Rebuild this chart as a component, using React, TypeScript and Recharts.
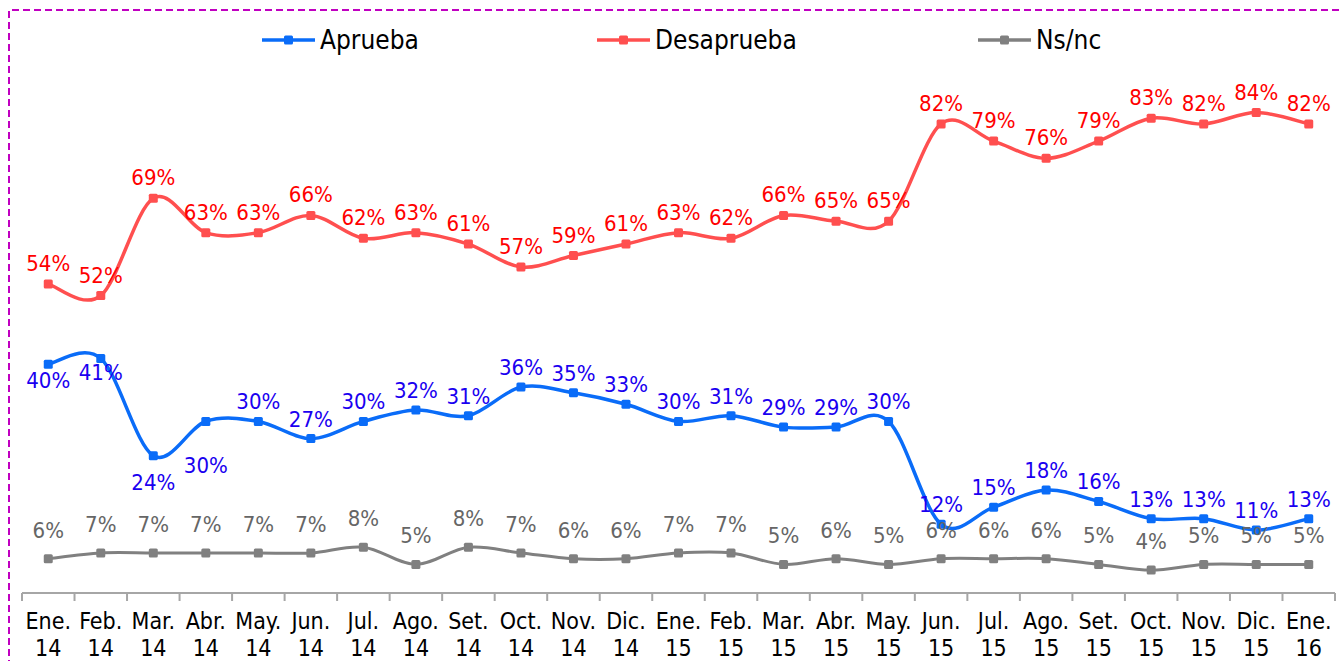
import { LineChart, Line, XAxis, YAxis } from 'recharts';

const months = [
  'Ene.|14', 'Feb.|14', 'Mar.|14', 'Abr.|14', 'May.|14', 'Jun.|14', 'Jul.|14', 'Ago.|14', 'Set.|14',
  'Oct.|14', 'Nov.|14', 'Dic.|14', 'Ene.|15', 'Feb.|15', 'Mar.|15', 'Abr.|15', 'May.|15', 'Jun.|15',
  'Jul.|15', 'Ago.|15', 'Set.|15', 'Oct.|15', 'Nov.|15', 'Dic.|15', 'Ene.|16',
];
const aprueba = [40, 41, 24, 30, 30, 27, 30, 32, 31, 36, 35, 33, 30, 31, 29, 29, 30, 12, 15, 18, 16, 13, 13, 11, 13];
const desaprueba = [54, 52, 69, 63, 63, 66, 62, 63, 61, 57, 59, 61, 63, 62, 66, 65, 65, 82, 79, 76, 79, 83, 82, 84, 82];
const nsnc = [6, 7, 7, 7, 7, 7, 8, 5, 8, 7, 6, 6, 7, 7, 5, 6, 5, 6, 6, 6, 5, 4, 5, 5, 5];

const data = months.map((m, i) => ({
  month: m,
  aprueba: aprueba[i],
  desaprueba: desaprueba[i],
  nsnc: nsnc[i],
}));

const FONT = "'DejaVu Sans Condensed', 'DejaVu Sans', sans-serif";
const BLUE = '#0a6cf8';
const RED = '#ff4f4f';
const GRAY = '#808080';
const PLOT_W = 1313;
const HALF_BAND = PLOT_W / months.length / 2;

// smoothing close to Excel's "smoothed line" (catmull-rom style bezier)
function excelSmooth(context: any) {
  let pts: number[][] = [];
  return {
    areaStart() {},
    areaEnd() {},
    lineStart() {
      pts = [];
    },
    lineEnd() {
      if (!pts.length) return;
      context.moveTo(pts[0][0], pts[0][1]);
      for (let i = 0; i < pts.length - 1; i++) {
        const p0 = pts[Math.max(0, i - 1)];
        const p1 = pts[i];
        const p2 = pts[i + 1];
        const p3 = pts[Math.min(pts.length - 1, i + 2)];
        context.bezierCurveTo(
          p1[0] + (p2[0] - p0[0]) / 6,
          p1[1] + (p2[1] - p0[1]) / 6,
          p2[0] - (p3[0] - p1[0]) / 6,
          p2[1] - (p3[1] - p1[1]) / 6,
          p2[0],
          p2[1],
        );
      }
    },
    point(x: number, y: number) {
      pts.push([+x, +y]);
    },
  };
}

function SquareDot({ cx, cy, fill }: { cx?: number; cy?: number; fill?: string }) {
  if (cx == null || cy == null) return null;
  return <rect x={cx - 4.5} y={cy - 4.5} width={9} height={9} rx={1.5} fill={fill} />;
}

// labels drawn below the point for the first Aprueba months
const belowNudge: Record<number, number> = { 0: 24, 1: 22, 2: 34, 3: 52 };

function makeLabel(color: string, up: number, below?: Record<number, number>) {
  return (props: any) => {
    const { x, y, value, index } = props;
    if (x == null || y == null) return null;
    const dy = below && below[index] != null ? below[index] : -up;
    return (
      <text
        x={x}
        y={y + dy}
        textAnchor="middle"
        fill={color}
        fontSize={22}
        style={{ fontFamily: FONT, fontStretch: 'condensed' }}
      >
        {value}%
      </text>
    );
  };
}

function MonthTick({ x, y, payload, index }: any) {
  const [a, b] = String(payload.value).split('|');
  return (
    <g>
      <line x1={x - HALF_BAND} y1={y} x2={x - HALF_BAND} y2={y + 8} stroke="#a6a6a6" strokeWidth={2} />
      {index === months.length - 1 && (
        <line x1={x + HALF_BAND} y1={y} x2={x + HALF_BAND} y2={y + 8} stroke="#a6a6a6" strokeWidth={2} />
      )}
      <text
        x={x}
        y={y + 36}
        textAnchor="middle"
        fill="#000"
        fontSize={23}
        style={{ fontFamily: FONT, fontStretch: 'condensed' }}
      >
        {a}
      </text>
      <text
        x={x}
        y={y + 63}
        textAnchor="middle"
        fill="#000"
        fontSize={23}
        style={{ fontFamily: FONT, fontStretch: 'condensed' }}
      >
        {b}
      </text>
    </g>
  );
}

function LegendItem({ left, color, label }: { left: number; color: string; label: string }) {
  return (
    <div style={{ position: 'absolute', left, top: 26, display: 'flex', alignItems: 'center' }}>
      <svg width={56} height={28}>
        <line x1={1} y1={14} x2={54} y2={14} stroke={color} strokeWidth={3.5} />
        <rect x={23} y={9.5} width={9} height={9} rx={1.5} fill={color} />
      </svg>
      <span style={{ fontFamily: FONT, fontStretch: 'condensed', fontSize: 26, color: '#000', marginLeft: 3, lineHeight: '28px' }}>
        {label}
      </span>
    </div>
  );
}

export default function App() {
  return (
    <div style={{ position: 'absolute', left: 0, top: 0, width: 1339, height: 661, overflow: 'hidden', background: '#fff' }}>
      <svg width={1339} height={661} style={{ position: 'absolute', left: 0, top: 0 }}>
        <path d="M9 700 L9 10 L1339 10" fill="none" stroke="#c000c0" strokeWidth={2} strokeDasharray="7 4" />
      </svg>
      <LineChart
        width={1339}
        height={661}
        data={data}
        margin={{ top: 21, right: 4, left: 22, bottom: 0 }}
        style={{ position: 'absolute', left: 0, top: 0 }}
      >
        <XAxis
          dataKey="month"
          interval={0}
          height={68}
          padding={{ left: HALF_BAND, right: HALF_BAND }}
          tickSize={0}
          tickMargin={0}
          tickLine={false}
          axisLine={{ stroke: '#a6a6a6', strokeWidth: 2 }}
          tick={<MonthTick />}
        />
        <YAxis hide domain={[0, 100]} />
        <Line
          dataKey="desaprueba"
          type={excelSmooth as any}
          stroke={RED}
          strokeWidth={3.5}
          dot={<SquareDot fill={RED} />}
          activeDot={false}
          label={makeLabel('#ff0000', 13)}
          isAnimationActive={false}
        />
        <Line
          dataKey="aprueba"
          type={excelSmooth as any}
          stroke={BLUE}
          strokeWidth={3.5}
          dot={<SquareDot fill={BLUE} />}
          activeDot={false}
          label={makeLabel('#1a00f0', 12, belowNudge)}
          isAnimationActive={false}
        />
        <Line
          dataKey="nsnc"
          type={excelSmooth as any}
          stroke={GRAY}
          strokeWidth={3}
          dot={<SquareDot fill={GRAY} />}
          activeDot={false}
          label={makeLabel('#666666', 21)}
          isAnimationActive={false}
        />
      </LineChart>
      <LegendItem left={261} color={BLUE} label="Aprueba" />
      <LegendItem left={596} color={RED} label="Desaprueba" />
      <LegendItem left={977} color={GRAY} label="Ns/nc" />
    </div>
  );
}
